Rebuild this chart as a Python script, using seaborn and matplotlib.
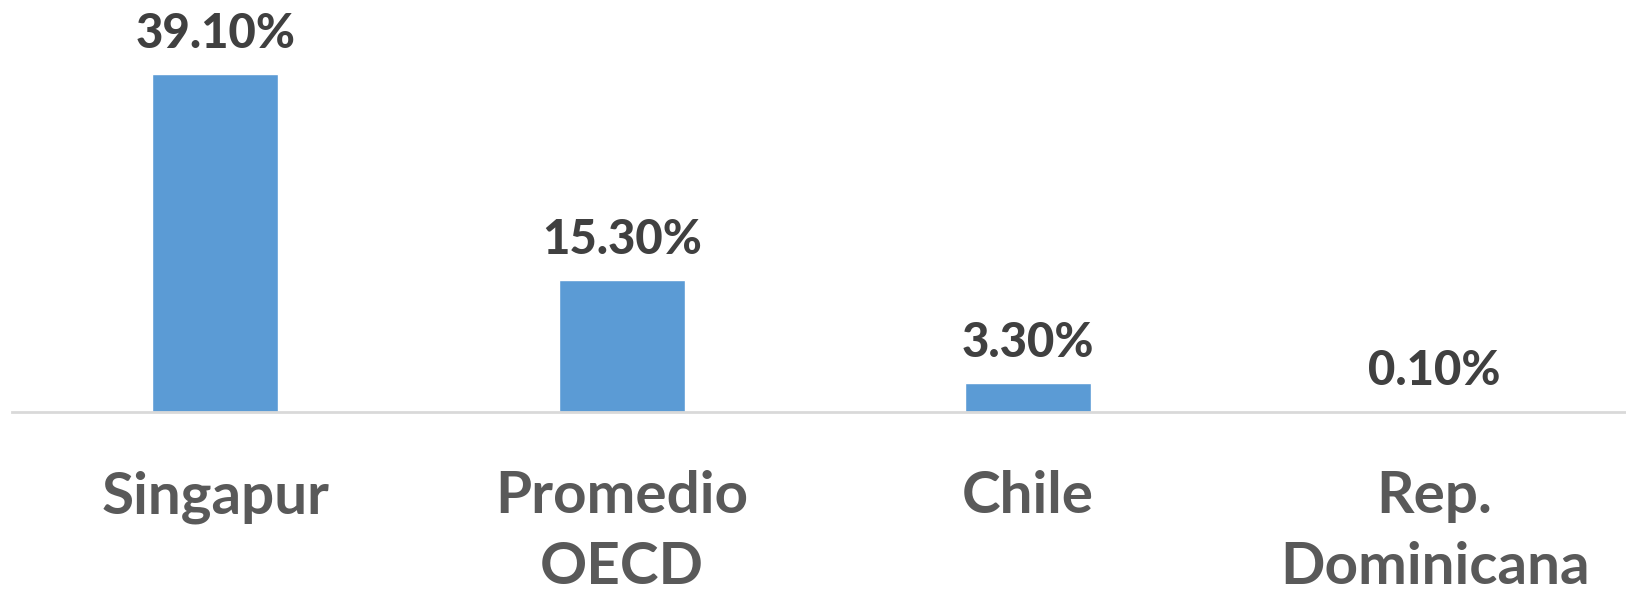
import matplotlib
matplotlib.use("Agg")
import matplotlib.pyplot as plt
import seaborn as sns
import pandas as pd

categories = ["Singapur", "Promedio\nOECD", "Chile", "Rep.\nDominicana"]
values = [39.1, 15.3, 3.3, 0.1]
value_labels = ["39.10%", "15.30%", "3.30%", "0.10%"]

sns.set_theme(style="white")
plt.rcParams['font.family'] = ['Lato', 'DejaVu Sans']

df = pd.DataFrame({"pais": categories, "valor": values})

fig = plt.figure(figsize=(16.26, 5.96), dpi=100)
ax = fig.add_axes([12/1626, 184/596, (1626-12)/1626, 412/596])
sns.barplot(data=df, x="pais", y="valor", color="#5B9BD5", width=0.31,
            saturation=1, ax=ax)

ax.set_xlim(-0.5, 3.471)
ax.set_ylim(0, 47.7)

for i, (v, lab) in enumerate(zip(values, value_labels)):
    ax.annotate(lab, (i, v), xytext=(0, 13), textcoords="offset points",
                ha="center", va="bottom", fontsize=34, fontweight="black",
                color="#404040")

for s in ["top", "right", "left"]:
    ax.spines[s].set_visible(False)
ax.spines["bottom"].set_color("#D9D9D9")
ax.spines["bottom"].set_linewidth(2)
ax.set_yticks([])
ax.set_xlabel("")
ax.set_ylabel("")
ax.tick_params(axis="x", length=0, pad=42)
for t in ax.get_xticklabels():
    t.set_fontsize(42)
    t.set_fontweight("bold")
    t.set_color("#595959")
    t.set_linespacing(1.4)

fig.savefig("out.png", dpi=100)
